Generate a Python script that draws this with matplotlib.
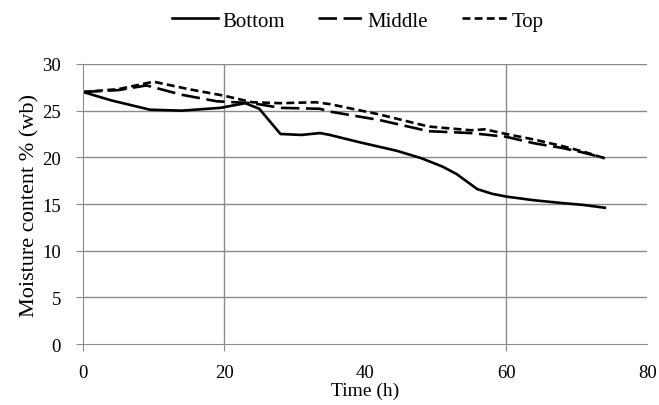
import matplotlib.pyplot as plt
from matplotlib.lines import Line2D

plt.rcParams['font.family'] = ['Liberation Serif', 'DejaVu Serif']

# Moisture content readings (time in h, % wb)
t_bottom = [0, 4, 9.5, 14, 19.5, 23, 25, 28, 31, 33.6, 35, 39.3, 44.5, 48, 51, 53, 55.9, 58, 60, 64, 68, 71, 74]
mc_bottom = [27.0, 26.1, 25.1, 25.0, 25.3, 25.8, 25.2, 22.5, 22.4, 22.6, 22.4, 21.6, 20.7, 19.9, 19.0, 18.2, 16.6, 16.1, 15.8, 15.4, 15.1, 14.9, 14.6]

t_middle = [0, 5, 9, 14, 19, 24, 28, 33.6, 35, 42, 49, 55, 60, 64, 68, 71, 74]
mc_middle = [27.0, 27.2, 27.7, 26.7, 26.0, 25.8, 25.3, 25.2, 24.9, 24.0, 22.8, 22.6, 22.2, 21.5, 21.0, 20.5, 19.9]

t_top = [0, 5, 10, 15, 20, 24, 28, 33, 35, 42, 49, 55, 57, 60, 64, 68, 71, 74]
mc_top = [27.0, 27.3, 28.1, 27.3, 26.6, 25.9, 25.8, 25.9, 25.7, 24.6, 23.3, 22.9, 23.0, 22.5, 21.9, 21.2, 20.6, 19.9]

series_names = ['Bottom', 'Middle', 'Top']
x_ticks = [0, 20, 40, 60, 80]
y_ticks = [0, 5, 10, 15, 20, 25, 30]

grid_c = '#8a8a8a'
lw = 1.9
dash_mid = (7, 2.5)
dash_top = (3, 1.6)

fig = plt.figure(figsize=(6.59, 4.06), dpi=100)
ax = fig.add_axes([0.126, 0.150, 0.856, 0.690])

ax.plot(t_bottom, mc_bottom, color='black', lw=lw)
ax.plot(t_middle, mc_middle, color='black', lw=lw, dashes=dash_mid)
ax.plot(t_top, mc_top, color='black', lw=lw, dashes=dash_top)

ax.set_xlim(0, 80)
ax.set_ylim(0, 30)
ax.set_xticks(x_ticks)
ax.set_yticks(y_ticks)
for y in y_ticks[1:]:
    ax.axhline(y, color=grid_c, lw=1, zorder=0)
# only the 20 and 60 verticals show in the original
for x in [20, 60]:
    ax.axvline(x, color=grid_c, lw=1, zorder=0)
for s in ['top', 'right']:
    ax.spines[s].set_visible(False)
ax.spines['left'].set_color(grid_c)
ax.spines['bottom'].set_color(grid_c)
ax.tick_params(colors=grid_c, labelcolor='black', labelsize=13.5, length=5, direction='out')
ax.tick_params(axis='x', pad=9)
ax.tick_params(axis='y', pad=11)
for tk in [ax.xaxis.get_major_ticks()[i] for i in (2, 4)]:
    tk.tick1line.set_visible(False)

ax.set_xlabel('Time (h)', fontsize=14, labelpad=1)
ax.set_ylabel('Moisture content % (wb)', fontsize=16, labelpad=2)

handles = [Line2D([], [], color='black', lw=lw),
           Line2D([], [], color='black', lw=lw, dashes=dash_mid),
           Line2D([], [], color='black', lw=lw, dashes=dash_top)]
fig.legend(handles, series_names, loc='center', bbox_to_anchor=(0.543, 0.946),
           ncol=3, frameon=False, fontsize=15, handlelength=2.2, handletextpad=0.2,
           columnspacing=1.6)

fig.savefig('out.png', dpi=100)
